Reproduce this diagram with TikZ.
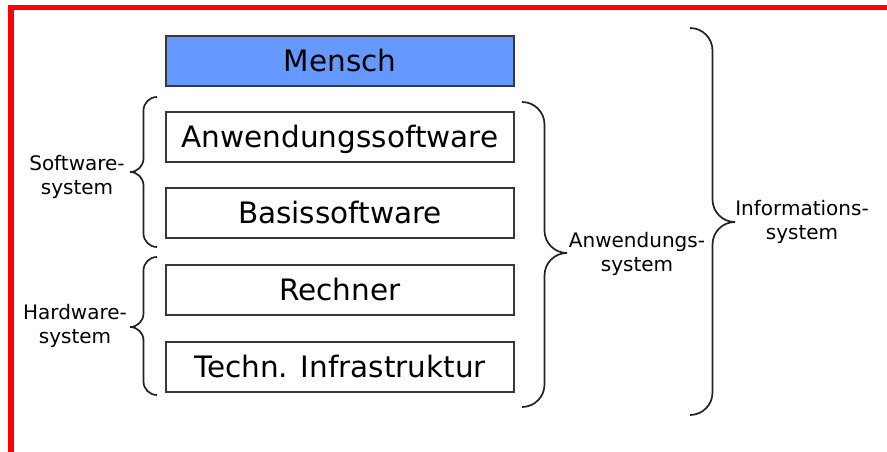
\documentclass[tikz,border=0pt]{standalone}
\usepackage{fontspec}
\setmainfont{DejaVu Sans}
\definecolor{menschblue}{RGB}{102,153,255}
\definecolor{framered}{RGB}{255,0,0}
\definecolor{inkgray}{RGB}{34,34,34}

% brace with its tip pointing right: end x, top y, tip y, bottom y, half depth
\newcommand\BraceToRight[5]{%
  \draw[bracestroke]
    (#1,#2) to[out=0,in=90] (#1+#5,#2-#5)
    -- (#1+#5,#3+#5) to[out=-90,in=180] (#1+2*#5,#3)
    to[out=180,in=90] (#1+#5,#3-#5)
    -- (#1+#5,#4+#5) to[out=-90,in=0] (#1,#4);}
% brace with its tip pointing left
\newcommand\BraceToLeft[5]{%
  \draw[bracestroke]
    (#1,#2) to[out=180,in=90] (#1-#5,#2-#5)
    -- (#1-#5,#3+#5) to[out=-90,in=0] (#1-2*#5,#3)
    to[out=0,in=90] (#1-#5,#3-#5)
    -- (#1-#5,#4+#5) to[out=-90,in=180] (#1,#4);}

\begin{document}
\begin{tikzpicture}[x=1pt,y=1pt,
  layer/.style={draw=inkgray!90, line width=1.7pt, minimum width=348pt,
    minimum height=50pt, inner sep=0pt, text height=21.5pt, text depth=0pt,
    font=\fontsize{29.5}{34}\selectfont},
  sidelabel/.style={align=center, inner sep=0pt,
    font=\fontsize{20}{23.5}\selectfont},
  bracestroke/.style={draw=inkgray, line width=1.7pt}]
\useasboundingbox (0,0) rectangle (887,-452);

% frame edges
\fill[framered] (8,-5) rectangle (887,-10.5);
\fill[framered] (8,-5) rectangle (14,-452);

% layers
\node[layer, fill=menschblue] (mensch) at (340,-61) {Mensch};
\node[layer] (anwsw) at (340,-137) {Anwendungssoftware};
\node[layer] (basissw) at (340,-213) {Basissoftware};
\node[layer] (rechner) at (340,-290) {Rechner};
\node[layer] (infra) at (340,-367) {Techn. Infrastruktur};

% braces
\BraceToLeft{157}{-97}{-172}{-247}{13.5}
\BraceToLeft{157}{-257}{-327}{-395}{13.5}
\BraceToRight{522}{-102}{-253}{-407}{22.5}
\BraceToRight{690}{-28}{-222}{-415}{22.5}

% labels
\node[sidelabel] (swsys) at (77,-177) {Software-\\system};
\node[sidelabel] (hwsys) at (75,-326) {Hardware-\\system};
\node[sidelabel] (anwsys) at (637,-254) {Anwendungs-\\system};
\node[sidelabel] (infsys) at (802,-222) {Informations-\\system};
\end{tikzpicture}
\end{document}
